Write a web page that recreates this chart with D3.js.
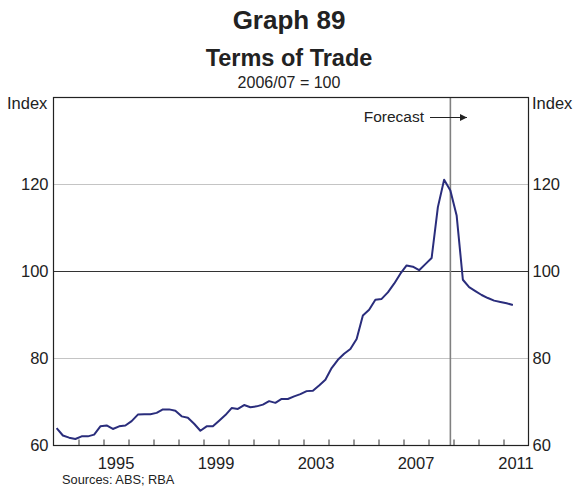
<!DOCTYPE html>
<html>
<head>
<meta charset="utf-8">
<script src="https://cdn.jsdelivr.net/npm/d3@7"></script>
<style>
  body { margin: 0; background: #fff; }
  svg { display: block; font-family: "Liberation Sans", Arial, sans-serif; }
</style>
</head>
<body>
<svg id="chart" width="577" height="487"></svg>
<script>
// Quarterly terms of trade index, 2006/07 = 100, starting March quarter 1993
const startYear = 1993;
const values = [
  64.0, 62.3, 61.8, 61.5, 62.1, 62.1, 62.5, 64.4, 64.6, 63.8,
  64.4, 64.6, 65.6, 67.1, 67.2, 67.2, 67.5, 68.3, 68.3, 68.0,
  66.7, 66.4, 65.0, 63.4, 64.4, 64.4, 65.7, 67.0, 68.6, 68.4,
  69.3, 68.8, 69.0, 69.4, 70.2, 69.8, 70.7, 70.7, 71.3, 71.8,
  72.5, 72.6, 73.8, 75.1, 77.8, 79.7, 81.1, 82.2, 84.5, 89.9,
  91.2, 93.5, 93.7, 95.2, 97.2, 99.5, 101.4, 101.1, 100.3, 101.7,
  103.1, 114.8, 121.1, 118.6, 112.9, 98.1, 96.4, 95.5, 94.6, 93.9,
  93.3, 93.0, 92.7, 92.3
];
const yTicks = [60, 80, 100, 120];
const xLabelYears = [1995, 1999, 2003, 2007, 2011];
const forecastStart = 2008.875;

const data = values.map((v, i) => ({ t: startYear + 0.125 + 0.25 * i, v }));

const svg = d3.select("#chart");
const L = 53.5, R = 528.5, T = 97.5, B = 445.5;
const x = d3.scaleLinear().domain([1993, 2012]).range([L, R]);
const y = d3.scaleLinear().domain([60, 140]).range([B, T]);
const txt = "#222";

// Titles
svg.append("text").attr("x", 289).attr("y", 29).attr("text-anchor", "middle")
  .attr("font-size", 26).attr("font-weight", "bold").attr("fill", txt).text("Graph 89");
svg.append("text").attr("x", 289).attr("y", 66).attr("text-anchor", "middle")
  .attr("font-size", 23.5).attr("font-weight", "bold").attr("fill", txt).text("Terms of Trade");
svg.append("text").attr("x", 289).attr("y", 88).attr("text-anchor", "middle")
  .attr("font-size", 16).attr("fill", txt).text("2006/07 = 100");

// Gridlines
yTicks.filter(d => d !== 60).forEach(d => {
  svg.append("line").attr("x1", L).attr("x2", R).attr("y1", y(d)).attr("y2", y(d))
    .attr("stroke", d === 100 ? "#333" : "#c4c4c4").attr("stroke-width", 1.2);
});

// Forecast vertical line
svg.append("line").attr("x1", x(forecastStart)).attr("x2", x(forecastStart))
  .attr("y1", T).attr("y2", B).attr("stroke", "#808080").attr("stroke-width", 1.6);

// Bottom ticks (inward) via axis
const yearTicks = d3.range(1994, 2012);
const xAxis = d3.axisBottom(x).tickValues(yearTicks).tickSize(-6).tickFormat("");
const gx = svg.append("g").attr("transform", `translate(0,${B})`).call(xAxis);
gx.select(".domain").remove();
gx.selectAll(".tick line").attr("stroke", "#333");

// Year labels centred in year
xLabelYears.forEach(yr => {
  svg.append("text").attr("x", x(yr + 0.5)).attr("y", 469).attr("text-anchor", "middle")
    .attr("font-size", 16.5).attr("fill", txt).text(yr);
});

// Y labels
const yAxisL = d3.axisLeft(y).tickValues(yTicks).tickSize(0).tickPadding(5);
const gl = svg.append("g").attr("transform", `translate(${L},0)`).call(yAxisL);
gl.select(".domain").remove();
gl.selectAll("text").attr("font-size", 16.5).attr("fill", txt)
  .attr("font-family", "Liberation Sans, Arial, sans-serif");
const yAxisR = d3.axisRight(y).tickValues(yTicks).tickSize(0).tickPadding(4);
const gr = svg.append("g").attr("transform", `translate(${R},0)`).call(yAxisR);
gr.select(".domain").remove();
gr.selectAll("text").attr("font-size", 16.5).attr("fill", txt)
  .attr("font-family", "Liberation Sans, Arial, sans-serif");

svg.append("text").attr("x", 7).attr("y", 109).attr("font-size", 16.5).attr("fill", txt).text("Index");
svg.append("text").attr("x", 532).attr("y", 109).attr("font-size", 16.5).attr("fill", txt).text("Index");

// Line
svg.append("path").datum(data)
  .attr("fill", "none").attr("stroke", "#2a2d7c").attr("stroke-width", 2)
  .attr("stroke-linejoin", "round")
  .attr("d", d3.line().x(d => x(d.t)).y(d => y(d.v)));

// Plot border
svg.append("rect").attr("x", L).attr("y", T).attr("width", R - L).attr("height", B - T)
  .attr("fill", "none").attr("stroke", "#222").attr("stroke-width", 1.2);

// Forecast annotation
svg.append("text").attr("x", 424).attr("y", 122).attr("text-anchor", "end")
  .attr("font-size", 15.5).attr("fill", txt).text("Forecast");
svg.append("defs").append("marker").attr("id", "arr").attr("viewBox", "0 0 10 10")
  .attr("refX", 10).attr("refY", 5).attr("markerWidth", 7).attr("markerHeight", 7)
  .attr("markerUnits", "userSpaceOnUse").attr("orient", "auto")
  .append("path").attr("d", "M0,0 L10,5 L0,10 z").attr("fill", txt);
svg.append("line").attr("x1", 430).attr("x2", 467).attr("y1", 117.5).attr("y2", 117.5)
  .attr("stroke", txt).attr("stroke-width", 1).attr("marker-end", "url(#arr)");

// Sources
svg.append("text").attr("x", 62).attr("y", 484).attr("font-size", 12.8).attr("fill", txt)
  .text("Sources: ABS; RBA");
</script>
</body>
</html>
